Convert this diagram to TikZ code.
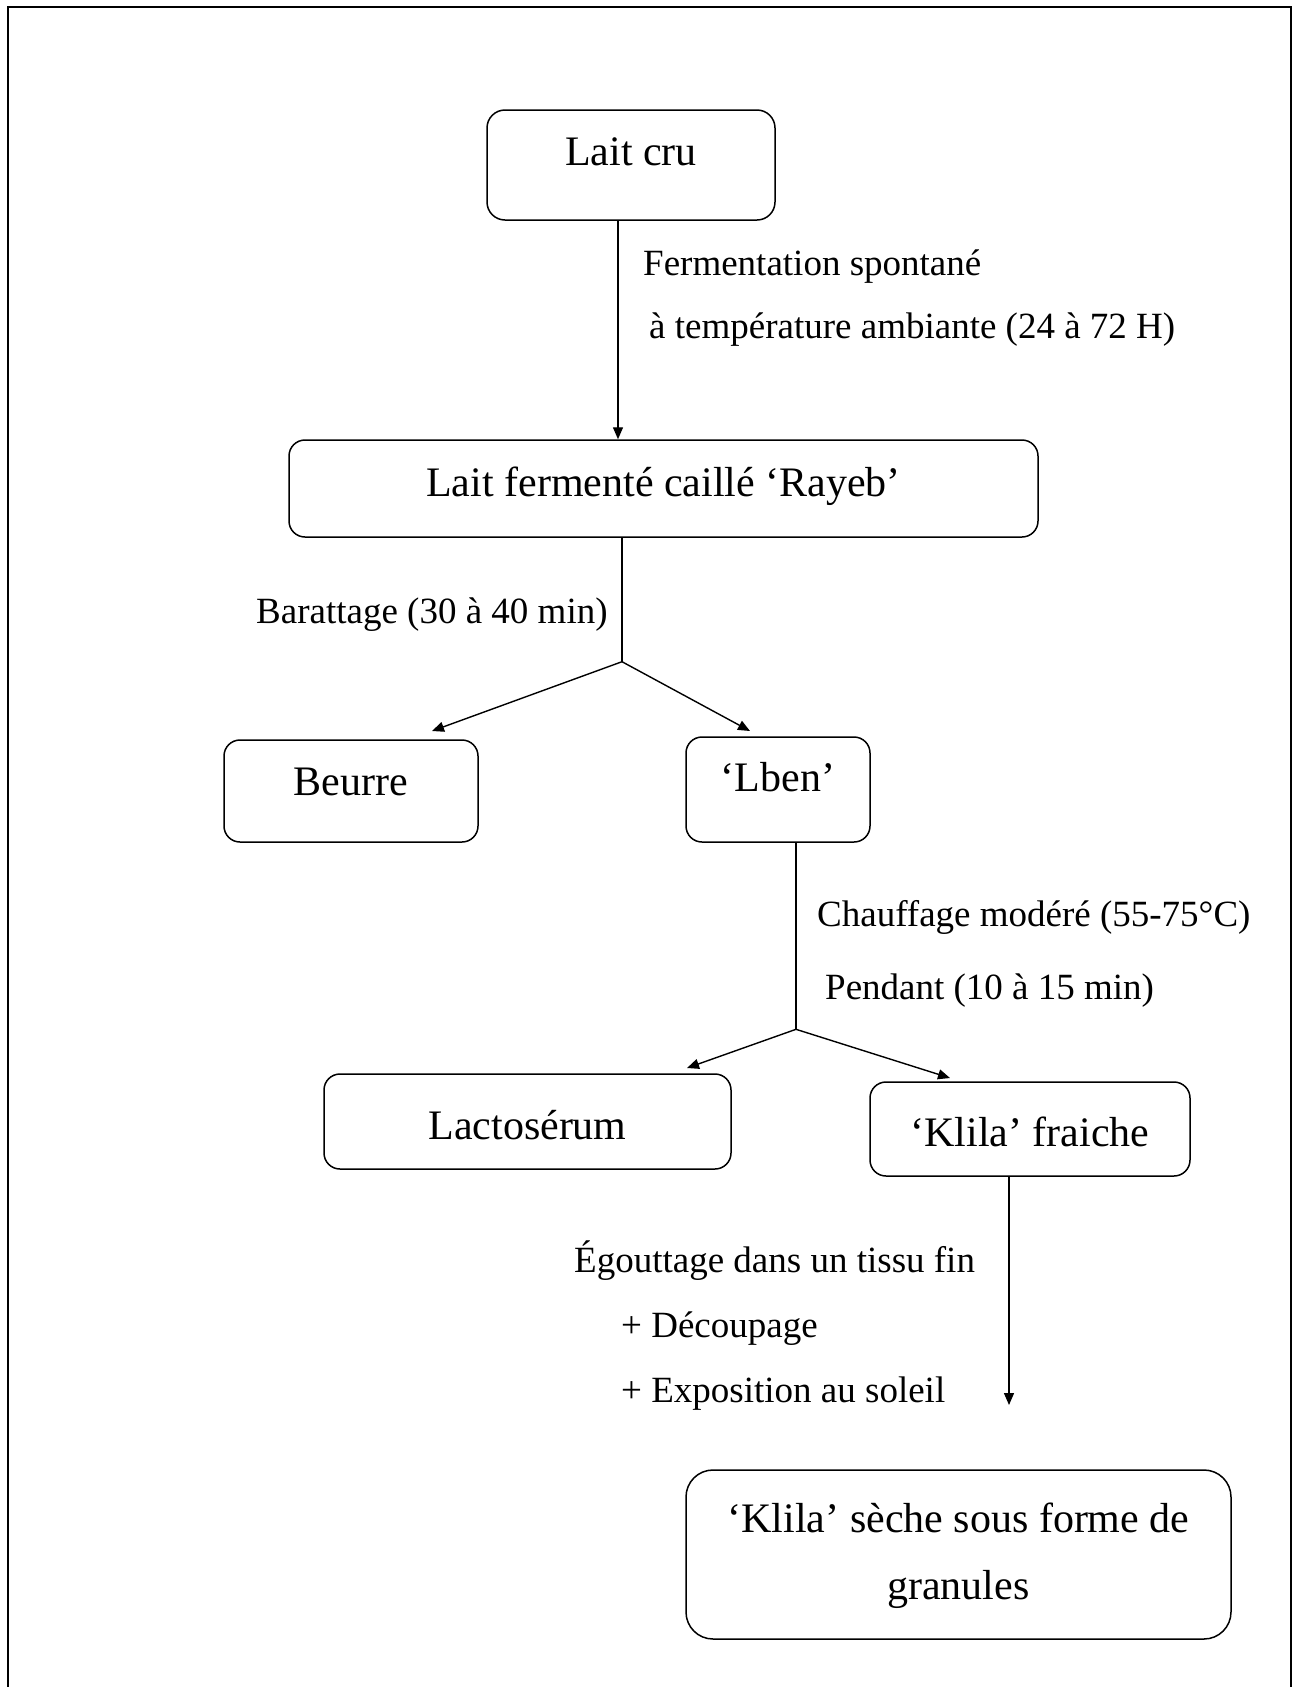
\documentclass[tikz,border=0pt]{standalone}
\usepackage{fontspec}
\setmainfont{Liberation Serif}
\usetikzlibrary{arrows.meta}
\begin{document}
\begin{tikzpicture}[x=1pt,y=-1pt,
  box/.style={draw, line width=1.5pt, rounded corners=16pt, inner xsep=0pt, inner ysep=0pt,
              font=\fontsize{42}{67}\selectfont, anchor=base},
  lbl/.style={anchor=base west, inner sep=0pt, font=\fontsize{37}{45}\selectfont},
  link/.style={line width=1.4pt},
  arr/.style={link, -{Triangle[length=12pt,width=10pt]}},
  frame/.style={line width=2pt}
]
\useasboundingbox (0,0) rectangle (1298,1687);
\draw[frame] (8,1687) -- (8,7) -- (1291,7) -- (1291,1687);

% boxes
\node[box, rounded corners=18pt, minimum width=288pt, text height=55pt, text depth=55pt] (lait) at (631,165) {Lait cru};
\node[box, minimum width=749pt, text height=56pt, text depth=41pt] (rayeb) at (663.5,496) {Lait fermenté caillé ‘Rayeb’};
\node[box, minimum width=254pt, text height=55pt, text depth=47pt] (beurre) at (351,795) {Beurre};
\node[box, minimum width=184pt, text height=54pt, text depth=51pt] (lben) at (778,791) {‘Lben’};
\node[box, minimum width=407pt, text height=65pt, text depth=30pt] (lacto) at (527.5,1139) {Lactosérum};
\node[box, minimum width=320pt, text height=64pt, text depth=30pt] (klila) at (1030,1146) {‘Klila’ fraiche};
\node[box, rounded corners=27pt, minimum width=545pt, text height=62pt, text depth=107pt] (seche) at (958.5,1532)
  {\begin{tabular}[t]{@{}c@{}}‘Klila’ sèche sous forme de\\granules\end{tabular}};

% branch points and free ends
\coordinate (b1) at (622,661.7);
\coordinate (b1l) at (432,731);
\coordinate (b1r) at (750,731);
\coordinate (b2) at (796,1029.3);
\coordinate (b2l) at (687,1068);
\coordinate (b2r) at (950,1078);
\coordinate (k4) at (1009,1405);

% connectors
\draw[arr] ([xshift=-13pt]lait.south) -- ([xshift=-13pt]lait.south |- rayeb.north);
\draw[link] (rayeb.south -| b1) -- (b1);
\draw[arr] (b1) -- (b1l);
\draw[arr] (b1) -- (b1r);
\draw[link] (lben.south -| b2) -- (b2);
\draw[arr] (b2) -- (b2l);
\draw[arr] (b2) -- (b2r);
\draw[arr] (klila.south -| k4) -- (k4);

% labels
\node[lbl] (l1) at (643,275) {Fermentation spontané};
\node[lbl] (l2) at (649,338) {à température ambiante (24 à 72 H)};
\node[lbl] (l3) at (256,623) {Barattage (30 à 40 min)};
\node[lbl] (l4) at (817,926) {Chauffage modéré (55-75°C)};
\node[lbl] (l5) at (825,999) {Pendant (10 à 15 min)};
\node[lbl] (l6) at (574,1272) {Égouttage dans un tissu fin};
\node[lbl] (l7) at (621,1337) {+ Découpage};
\node[lbl] (l8) at (621,1402) {+ Exposition au soleil};
\end{tikzpicture}
\end{document}
